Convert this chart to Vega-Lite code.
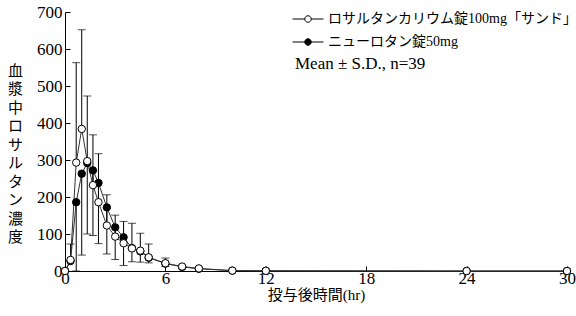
{
  "$schema": "https://vega.github.io/schema/vega-lite/v6.json",
  "width": 502,
  "height": 259,
  "autosize": "none",
  "padding": {"left": 65, "top": 12, "right": 9, "bottom": 45},
  "background": "white",
  "config": {
    "view": {"stroke": null},
    "font": "Liberation Serif, Noto Sans CJK JP",
    "axis": {
      "domainColor": "black",
      "tickColor": "black",
      "labelColor": "black",
      "titleColor": "black",
      "grid": false,
      "labelFont": "Liberation Serif",
      "labelFontSize": 17,
      "labelOverlap": false,
      "titleFont": "Liberation Serif, Noto Sans CJK JP",
      "titleFontWeight": "normal",
      "titleFontSize": 15,
      "tickSize": -5,
      "domainWidth": 1,
      "tickWidth": 1
    },
    "legend": {
      "orient": "none",
      "legendX": 230,
      "legendY": -6,
      "symbolType": "M-1.24,0H-0.26M0.26,0H1.24M0.26,0A0.26,0.26,0,1,1,-0.26,0A0.26,0.26,0,1,1,0.26,0",
      "symbolSize": 625,
      "symbolStrokeColor": "black",
      "symbolStrokeWidth": 1,
      "labelFont": "Liberation Serif, Noto Sans CJK JP",
      "labelFontSize": 14,
      "labelLimit": 400,
      "labelColor": "black",
      "labelOffset": 7,
      "rowPadding": 3,
      "titleOrient": "bottom",
      "titleFont": "Liberation Serif",
      "titleFontWeight": "normal",
      "titleFontSize": 17,
      "titleColor": "black",
      "titlePadding": 7,
      "titleAnchor": "start"
    }
  },
  "datasets": {
    "pk": [
      {"t": 0, "drug": "ニューロタン錠50mg", "mean": 0, "end": null},
      {"t": 0.33, "drug": "ニューロタン錠50mg", "mean": 27, "end": null},
      {"t": 0.67, "drug": "ニューロタン錠50mg", "mean": 186, "end": 0},
      {"t": 1, "drug": "ニューロタン錠50mg", "mean": 263, "end": 43},
      {"t": 1.33, "drug": "ニューロタン錠50mg", "mean": 292, "end": 100},
      {"t": 1.67, "drug": "ニューロタン錠50mg", "mean": 272, "end": 96},
      {"t": 2, "drug": "ニューロタン錠50mg", "mean": 238, "end": 74},
      {"t": 2.5, "drug": "ニューロタン錠50mg", "mean": 172, "end": 46},
      {"t": 3, "drug": "ニューロタン錠50mg", "mean": 118, "end": 31},
      {"t": 3.5, "drug": "ニューロタン錠50mg", "mean": 91, "end": 15},
      {"t": 4, "drug": "ニューロタン錠50mg", "mean": 62, "end": 25},
      {"t": 4.5, "drug": "ニューロタン錠50mg", "mean": 53, "end": 24},
      {"t": 5, "drug": "ニューロタン錠50mg", "mean": 36, "end": 22},
      {"t": 6, "drug": "ニューロタン錠50mg", "mean": 20, "end": 12},
      {"t": 7, "drug": "ニューロタン錠50mg", "mean": 11, "end": null},
      {"t": 8, "drug": "ニューロタン錠50mg", "mean": 6, "end": null},
      {"t": 10, "drug": "ニューロタン錠50mg", "mean": 1, "end": null},
      {"t": 12, "drug": "ニューロタン錠50mg", "mean": 0.5, "end": null},
      {"t": 24, "drug": "ニューロタン錠50mg", "mean": 0, "end": null},
      {"t": 30, "drug": "ニューロタン錠50mg", "mean": 0, "end": null},
      {"t": 0, "drug": "ロサルタンカリウム錠100mg「サンド」", "mean": 0, "end": null},
      {"t": 0.33, "drug": "ロサルタンカリウム錠100mg「サンド」", "mean": 30, "end": 73},
      {"t": 0.67, "drug": "ロサルタンカリウム錠100mg「サンド」", "mean": 293, "end": 563},
      {"t": 1, "drug": "ロサルタンカリウム錠100mg「サンド」", "mean": 384, "end": 652},
      {"t": 1.33, "drug": "ロサルタンカリウム錠100mg「サンド」", "mean": 297, "end": 473},
      {"t": 1.67, "drug": "ロサルタンカリウム錠100mg「サンド」", "mean": 232, "end": 368},
      {"t": 2, "drug": "ロサルタンカリウム錠100mg「サンド」", "mean": 186, "end": 317},
      {"t": 2.5, "drug": "ロサルタンカリウム錠100mg「サンド」", "mean": 123, "end": 206},
      {"t": 3, "drug": "ロサルタンカリウム錠100mg「サンド」", "mean": 93, "end": 151},
      {"t": 3.5, "drug": "ロサルタンカリウム錠100mg「サンド」", "mean": 75, "end": 134},
      {"t": 4, "drug": "ロサルタンカリウム錠100mg「サンド」", "mean": 61, "end": 129},
      {"t": 4.5, "drug": "ロサルタンカリウム錠100mg「サンド」", "mean": 55, "end": 102},
      {"t": 5, "drug": "ロサルタンカリウム錠100mg「サンド」", "mean": 37, "end": 73},
      {"t": 6, "drug": "ロサルタンカリウム錠100mg「サンド」", "mean": 21, "end": 35},
      {"t": 7, "drug": "ロサルタンカリウム錠100mg「サンド」", "mean": 12, "end": null},
      {"t": 8, "drug": "ロサルタンカリウム錠100mg「サンド」", "mean": 7, "end": null},
      {"t": 10, "drug": "ロサルタンカリウム錠100mg「サンド」", "mean": 1, "end": null},
      {"t": 12, "drug": "ロサルタンカリウム錠100mg「サンド」", "mean": 0.5, "end": null},
      {"t": 24, "drug": "ロサルタンカリウム錠100mg「サンド」", "mean": 0, "end": null},
      {"t": 30, "drug": "ロサルタンカリウム錠100mg「サンド」", "mean": 0, "end": null}
    ]
  },
  "data": {"name": "pk"},
  "encoding": {
    "x": {
      "field": "t",
      "type": "quantitative",
      "scale": {"domain": [0, 30], "nice": false, "zero": false},
      "axis": {
        "values": [0, 6, 12, 18, 24, 30],
        "title": "投与後時間(hr)",
        "titlePadding": 1,
        "labelPadding": 4,
        "labelFlush": false
      }
    },
    "y": {
      "field": "mean",
      "type": "quantitative",
      "scale": {"domain": [0, 700], "nice": false},
      "axis": {
        "values": [0, 100, 200, 300, 400, 500, 600, 700],
        "labelOverlap": false,
        "title": ["血", "漿", "中", "ロ", "サ", "ル", "タ", "ン", "濃", "度"],
        "titleAngle": 0,
        "titleAlign": "center",
        "titleBaseline": "top",
        "titleX": -50,
        "titleY": 51,
        "titleLineHeight": 18.5,
        "labelPadding": 8
      }
    }
  },
  "layer": [
    {
      "transform": [{"filter": "datum.end != null"}],
      "mark": {"type": "rule", "color": "black", "strokeWidth": 1},
      "encoding": {
        "y2": {"field": "end"}
      }
    },
    {
      "transform": [{"filter": "datum.end != null"}],
      "mark": {"type": "tick", "orient": "horizontal", "color": "black", "thickness": 1, "size": 8},
      "encoding": {
        "y": {
          "field": "end",
          "type": "quantitative",
          "scale": {"domain": [0, 700], "nice": false},
          "axis": {
            "values": [0, 100, 200, 300, 400, 500, 600, 700],
            "labelOverlap": false,
            "title": ["血", "漿", "中", "ロ", "サ", "ル", "タ", "ン", "濃", "度"],
            "titleAngle": 0,
            "titleAlign": "center",
            "titleBaseline": "top",
            "titleX": -50,
            "titleY": 51,
            "titleLineHeight": 18.5,
            "labelPadding": 8
          }
        }
      }
    },
    {
      "mark": {"type": "line", "color": "#333", "strokeWidth": 1},
      "encoding": {
        "detail": {"field": "drug"}
      }
    },
    {
      "mark": {"type": "point", "shape": "circle", "filled": true, "size": 55, "stroke": "black", "strokeWidth": 1, "opacity": 1},
      "encoding": {
        "fill": {
          "field": "drug",
          "type": "nominal",
          "scale": {
            "domain": ["ロサルタンカリウム錠100mg「サンド」", "ニューロタン錠50mg"],
            "range": ["white", "black"]
          },
          "legend": {"title": "Mean ± S.D., n=39"}
        }
      }
    }
  ]
}
